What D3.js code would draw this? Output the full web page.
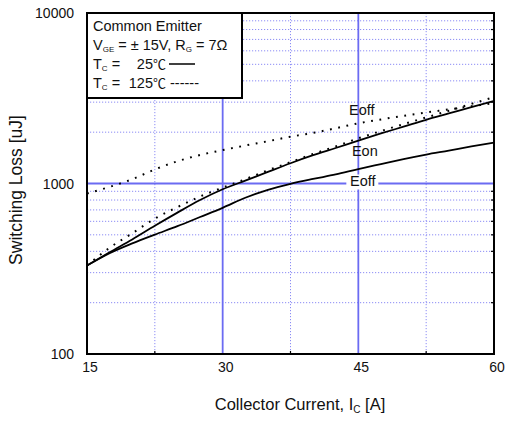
<!DOCTYPE html>
<html>
<head>
<meta charset="utf-8">
<script src="https://d3js.org/d3.v7.min.js"></script>
<style>
  body { margin: 0; background: #fff; }
  svg { font-family: "Liberation Sans", Arial, sans-serif; }
</style>
</head>
<body>
<div id="chart"></div>
<script>
// collector current steps [A]
var current = [15, 17.5, 20, 22.5, 25, 27.5, 30, 32.5, 35, 37.5, 40, 42.5, 45, 47.5, 50, 52.5, 55, 57.5, 60];
// switching loss [uJ]
var eon25   = [330, 395, 470, 565, 675, 800, 925, 1040, 1170, 1315, 1465, 1615, 1785, 1965, 2155, 2365, 2575, 2805, 3050];
var eoff25  = [330, 390, 445, 501, 562, 636, 720, 825, 918, 995, 1063, 1130, 1215, 1300, 1390, 1478, 1560, 1650, 1735];
var eon125  = [330, 420, 510, 622, 727, 839, 946, 1060, 1195, 1335, 1490, 1650, 1841, 2030, 2230, 2440, 2670, 2930, 3210];
var eoff125 = [874, 955, 1060, 1209, 1350, 1470, 1570, 1670, 1770, 1880, 1980, 2110, 2255, 2375, 2495, 2610, 2720, 2840, 2960];

var xTicks = [15, 30, 45, 60];
var xMinor = [22.5, 37.5, 52.5];
var yTicks = [100, 1000, 10000];
var yMinor = [200, 300, 400, 500, 600, 700, 800, 900, 2000, 3000, 4000, 5000, 6000, 7000, 8000, 9000];

var W = 505, H = 421;
var plot = { left: 87, right: 494, top: 13, bottom: 354 };

var svg = d3.select("#chart").append("svg")
    .attr("width", W)
    .attr("height", H);

var x = d3.scaleLinear().domain([15, 60]).range([plot.left, plot.right]);
var y = d3.scaleLog().domain([100, 10000]).range([plot.bottom, plot.top]);

// grid - minor dotted first, then major solid blue
var grid = svg.append("g");
grid.selectAll(".hminor").data(yMinor).enter().append("line")
    .attr("x1", plot.left).attr("x2", plot.right)
    .attr("y1", function(d) { return y(d); }).attr("y2", function(d) { return y(d); })
    .attr("stroke", "#8c8cf5").attr("stroke-width", 1)
    .attr("stroke-dasharray", "1.2,1.8");
grid.selectAll(".vminor").data(xMinor).enter().append("line")
    .attr("y1", plot.top).attr("y2", plot.bottom)
    .attr("x1", function(d) { return x(d); }).attr("x2", function(d) { return x(d); })
    .attr("stroke", "#8c8cf5").attr("stroke-width", 1)
    .attr("stroke-dasharray", "1.2,1.8");
grid.selectAll(".hmajor").data([1000]).enter().append("line")
    .attr("x1", plot.left).attr("x2", plot.right)
    .attr("y1", function(d) { return y(d); }).attr("y2", function(d) { return y(d); })
    .attr("stroke", "#6b6bf2").attr("stroke-width", 1.8);
grid.selectAll(".vmajor").data([30, 45]).enter().append("line")
    .attr("y1", plot.top).attr("y2", plot.bottom)
    .attr("x1", function(d) { return x(d); }).attr("x2", function(d) { return x(d); })
    .attr("stroke", "#6b6bf2").attr("stroke-width", 1.8);

// small inward ticks on right and bottom edges
svg.append("g").selectAll("line").data(yMinor).enter().append("line")
    .attr("x1", plot.right - 3).attr("x2", plot.right)
    .attr("y1", function(d) { return y(d); }).attr("y2", function(d) { return y(d); })
    .attr("stroke", "#000").attr("stroke-width", 1.2);
svg.append("g").selectAll("line").data(xMinor).enter().append("line")
    .attr("y1", plot.bottom - 3).attr("y2", plot.bottom)
    .attr("x1", function(d) { return x(d); }).attr("x2", function(d) { return x(d); })
    .attr("stroke", "#000").attr("stroke-width", 1.2);

// curves
var line = d3.line()
    .x(function(d) { return x(d[0]); })
    .y(function(d) { return y(d[1]); })
    .curve(d3.curveMonotoneX);

var series = [
    { values: eoff125, dash: "1.8,6.6" },
    { values: eon125, dash: "1.8,6.6" },
    { values: eon25, dash: null },
    { values: eoff25, dash: null }
];
svg.append("g").selectAll("path").data(series).enter().append("path")
    .attr("d", function(s) { return line(current.map(function(c, i) { return [c, s.values[i]]; })); })
    .attr("fill", "none")
    .attr("stroke", "#000")
    .attr("stroke-width", function(s) { return s.dash ? 2 : 1.8; })
    .attr("stroke-dasharray", function(s) { return s.dash; });

// curve labels
svg.append("rect")
    .attr("x", x(45) - 12).attr("y", y(1000) - 9)
    .attr("width", 32).attr("height", 15)
    .attr("fill", "#fff");
var labels = [
    { text: "Eoff", i: 45, v: 2512, dx: 3.5 },
    { text: "Eon", i: 45, v: 1449, dx: 6.5 },
    { text: "Eoff", i: 45, v: 964, dx: 4.5 }
];
svg.append("g").selectAll("text").data(labels).enter().append("text")
    .attr("x", function(d) { return x(d.i) + d.dx; })
    .attr("y", function(d) { return y(d.v); })
    .attr("text-anchor", "middle")
    .attr("font-size", "14.5px")
    .attr("fill", "#111")
    .text(function(d) { return d.text; });

// frame
svg.append("rect")
    .attr("x", plot.left).attr("y", plot.top)
    .attr("width", plot.right - plot.left).attr("height", plot.bottom - plot.top)
    .attr("fill", "none").attr("stroke", "#000").attr("stroke-width", 2);

// tick labels
svg.append("g").selectAll("text").data(yTicks).enter().append("text")
    .attr("x", 74).attr("y", function(d) { return y(d) + 5; })
    .attr("text-anchor", "end").attr("font-size", "14px").attr("fill", "#111")
    .text(function(d) { return d; });
svg.append("g").selectAll("text").data(xTicks).enter().append("text")
    .attr("x", function(d) { return x(d) + 3; }).attr("y", 372)
    .attr("text-anchor", "middle").attr("font-size", "14px").attr("fill", "#111")
    .text(function(d) { return d; });

// axis titles
var xt = svg.append("text")
    .attr("x", 300).attr("y", 410)
    .attr("text-anchor", "middle").attr("font-size", "16.5px").attr("fill", "#111");
xt.append("tspan").text("Collector Current, I");
xt.append("tspan").attr("font-size", "10px").attr("dy", 3).text("C");
xt.append("tspan").attr("dy", -3).text(" [A]");

svg.append("text")
    .attr("transform", "translate(22,190) rotate(-90)")
    .attr("text-anchor", "middle").attr("font-size", "17.5px").attr("fill", "#111")
    .text("Switching Loss [uJ]");

// legend box
var lg = svg.append("g");
lg.append("rect")
    .attr("x", plot.left).attr("y", plot.top)
    .attr("width", 155).attr("height", 85)
    .attr("fill", "#fff").attr("stroke", "#000").attr("stroke-width", 2);

var fs = "14.5px", sub = "8px";
var degFont = "'Noto Sans CJK SC', 'DejaVu Sans', sans-serif";
lg.append("text").attr("x", 93).attr("y", 31).attr("font-size", fs).attr("fill", "#111")
    .text("Common Emitter");

var l2 = lg.append("text").attr("x", 93).attr("y", 50).attr("font-size", fs).attr("fill", "#111")
    .style("white-space", "pre");
l2.append("tspan").text("V");
l2.append("tspan").attr("font-size", sub).attr("dy", 2).text("GE");
l2.append("tspan").attr("dy", -2).text(" = \u00B1 15V, R");
l2.append("tspan").attr("font-size", sub).attr("dy", 2).text("G");
l2.append("tspan").attr("dy", -2).text(" = 7\u03A9");

var l3 = lg.append("text").attr("x", 93).attr("y", 69).attr("font-size", fs).attr("fill", "#111");
l3.append("tspan").text("T");
l3.append("tspan").attr("font-size", sub).attr("dy", 2).text("C");
l3.append("tspan").attr("dy", -2).text(" =");
var t25 = lg.append("text").attr("x", 166).attr("y", 69).attr("font-size", fs).attr("fill", "#111")
    .attr("text-anchor", "end");
t25.append("tspan").text("25");
t25.append("tspan").style("font-family", degFont).attr("font-size", "13px").text("\u2103");
lg.append("line").attr("x1", 169).attr("x2", 195).attr("y1", 64).attr("y2", 64)
    .attr("stroke", "#000").attr("stroke-width", 1.5);

var l4 = lg.append("text").attr("x", 93).attr("y", 88).attr("font-size", fs).attr("fill", "#111");
l4.append("tspan").text("T");
l4.append("tspan").attr("font-size", sub).attr("dy", 2).text("C");
l4.append("tspan").attr("dy", -2).text(" =");
var t125 = lg.append("text").attr("x", 166).attr("y", 88).attr("font-size", fs).attr("fill", "#111")
    .attr("text-anchor", "end");
t125.append("tspan").text("125");
t125.append("tspan").style("font-family", degFont).attr("font-size", "13px").text("\u2103");
lg.append("text").attr("x", 170).attr("y", 88).attr("font-size", fs).attr("fill", "#111")
    .text("------");
</script>
</body>
</html>
